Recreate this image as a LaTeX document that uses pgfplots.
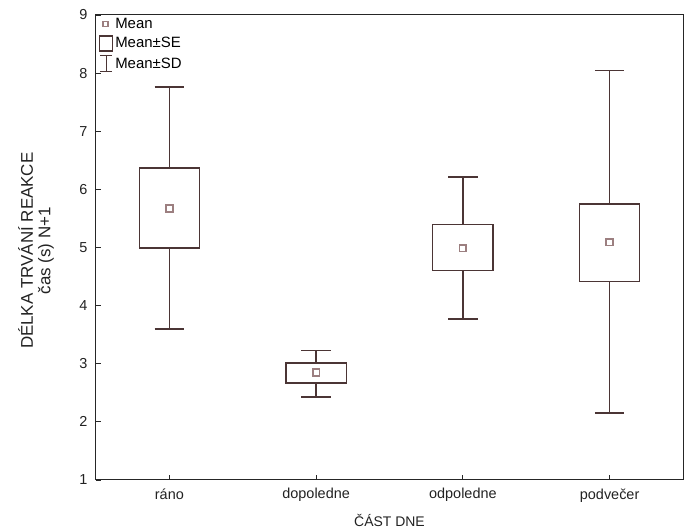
\documentclass[border=0pt]{standalone}
\usepackage{pgfplots}
\pgfplotsset{compat=1.18}
\usepgfplotslibrary{statistics}
\usepackage{fontspec}
\setmainfont{Liberation Sans}
\definecolor{boxcol}{HTML}{4B3535}
\definecolor{meancol}{HTML}{9C7F80}
\definecolor{txtcol}{HTML}{222222}
\begin{document}
\begin{tikzpicture}
\begin{axis}[
  scale only axis,
  width=587bp, height=465bp,
  xmin=-0.5, xmax=3.5, ymin=1, ymax=9,
  xtick={0,1,2,3},
  xticklabels={ráno,dopoledne,odpoledne,podvečer},
  ytick={1,2,3,4,5,6,7,8,9},
  tick pos=left, tick align=inside,
  major tick length=5bp,
  axis line style={black!85, line width=1bp},
  tick style={black!85, line width=0.9bp},
  /pgf/number format/assume math mode=true,
  font=\fontsize{14.5}{17}\selectfont,
  tick label style={text=txtcol},
  yticklabel style={xshift=-5bp},
  xticklabel style={yshift=-5bp},
  xlabel={ČÁST DNE},
  xlabel style={at={(axis description cs:0.5,-0.086)}, anchor=center, font=\fontsize{14}{16}\selectfont, text=txtcol},
  ylabel={DÉLKA TRVÁNÍ REAKCE\\čas (s) N+1},
  ylabel style={at={(axis description cs:-0.102,0.493)}, anchor=center, align=center, font=\fontsize{17}{17.5}\selectfont, text=txtcol},
  legend style={at={(axis description cs:0,1)}, anchor=north west, xshift=3bp, yshift=-1bp,
    draw=none, fill=none, font=\fontsize{15}{17}\selectfont, row sep=3.5bp, inner sep=0bp},
  legend cell align=left,
  boxplot/draw direction=y,
  boxplot/box extend=0.41,
  boxplot/whisker extend=0.2,
  boxplot/every median/.style={draw=none},
]
\addlegendimage{legend image code/.code={\draw[white, opacity=0] (0bp,-7bp) rectangle (13bp,7bp); \draw[meancol, line width=1.5bp] (3.5bp,-2.5bp) rectangle (8.5bp,2.5bp);}}
\addlegendentry{Mean}
\addlegendimage{legend image code/.code={\draw[boxcol, line width=1.1bp] (0bp,-7.5bp) rectangle (13bp,7.5bp);}}
\addlegendentry{Mean±SE}
\addlegendimage{legend image code/.code={\draw[boxcol, line width=1.1bp] (0.5bp,8bp) -- (12.5bp,8bp) (6.5bp,8bp) -- (6.5bp,-8bp) (0.5bp,-8bp) -- (12.5bp,-8bp);}}
\addlegendentry{Mean±SD}

\addplot[boxcol, line width=1.4bp, forget plot, boxplot prepared={draw position=0,
  lower whisker=3.60, lower quartile=4.99, median=5.67, upper quartile=6.37, upper whisker=7.76}]
  coordinates {};
\addplot[boxcol, line width=1.4bp, forget plot, boxplot prepared={draw position=1,
  lower whisker=2.43, lower quartile=2.67, median=2.85, upper quartile=3.01, upper whisker=3.23}]
  coordinates {};
\addplot[boxcol, line width=1.4bp, forget plot, boxplot prepared={draw position=2,
  lower whisker=3.77, lower quartile=4.60, median=4.99, upper quartile=5.40, upper whisker=6.21}]
  coordinates {};
\addplot[boxcol, line width=1.4bp, forget plot, boxplot prepared={draw position=3,
  lower whisker=2.15, lower quartile=4.42, median=5.09, upper quartile=5.75, upper whisker=8.04}]
  coordinates {};
\addplot[only marks, forget plot, mark=square, mark size=3.3bp,
  mark options={draw=meancol, line width=1.7bp, fill=none}]
  coordinates {(0,5.67) (1,2.85) (2,4.99) (3,5.09)};
\end{axis}
\path ([shift={(-96bp,-50bp)}]current axis.south west) rectangle ([shift={(5bp,15bp)}]current axis.north east);
\end{tikzpicture}
\end{document}
